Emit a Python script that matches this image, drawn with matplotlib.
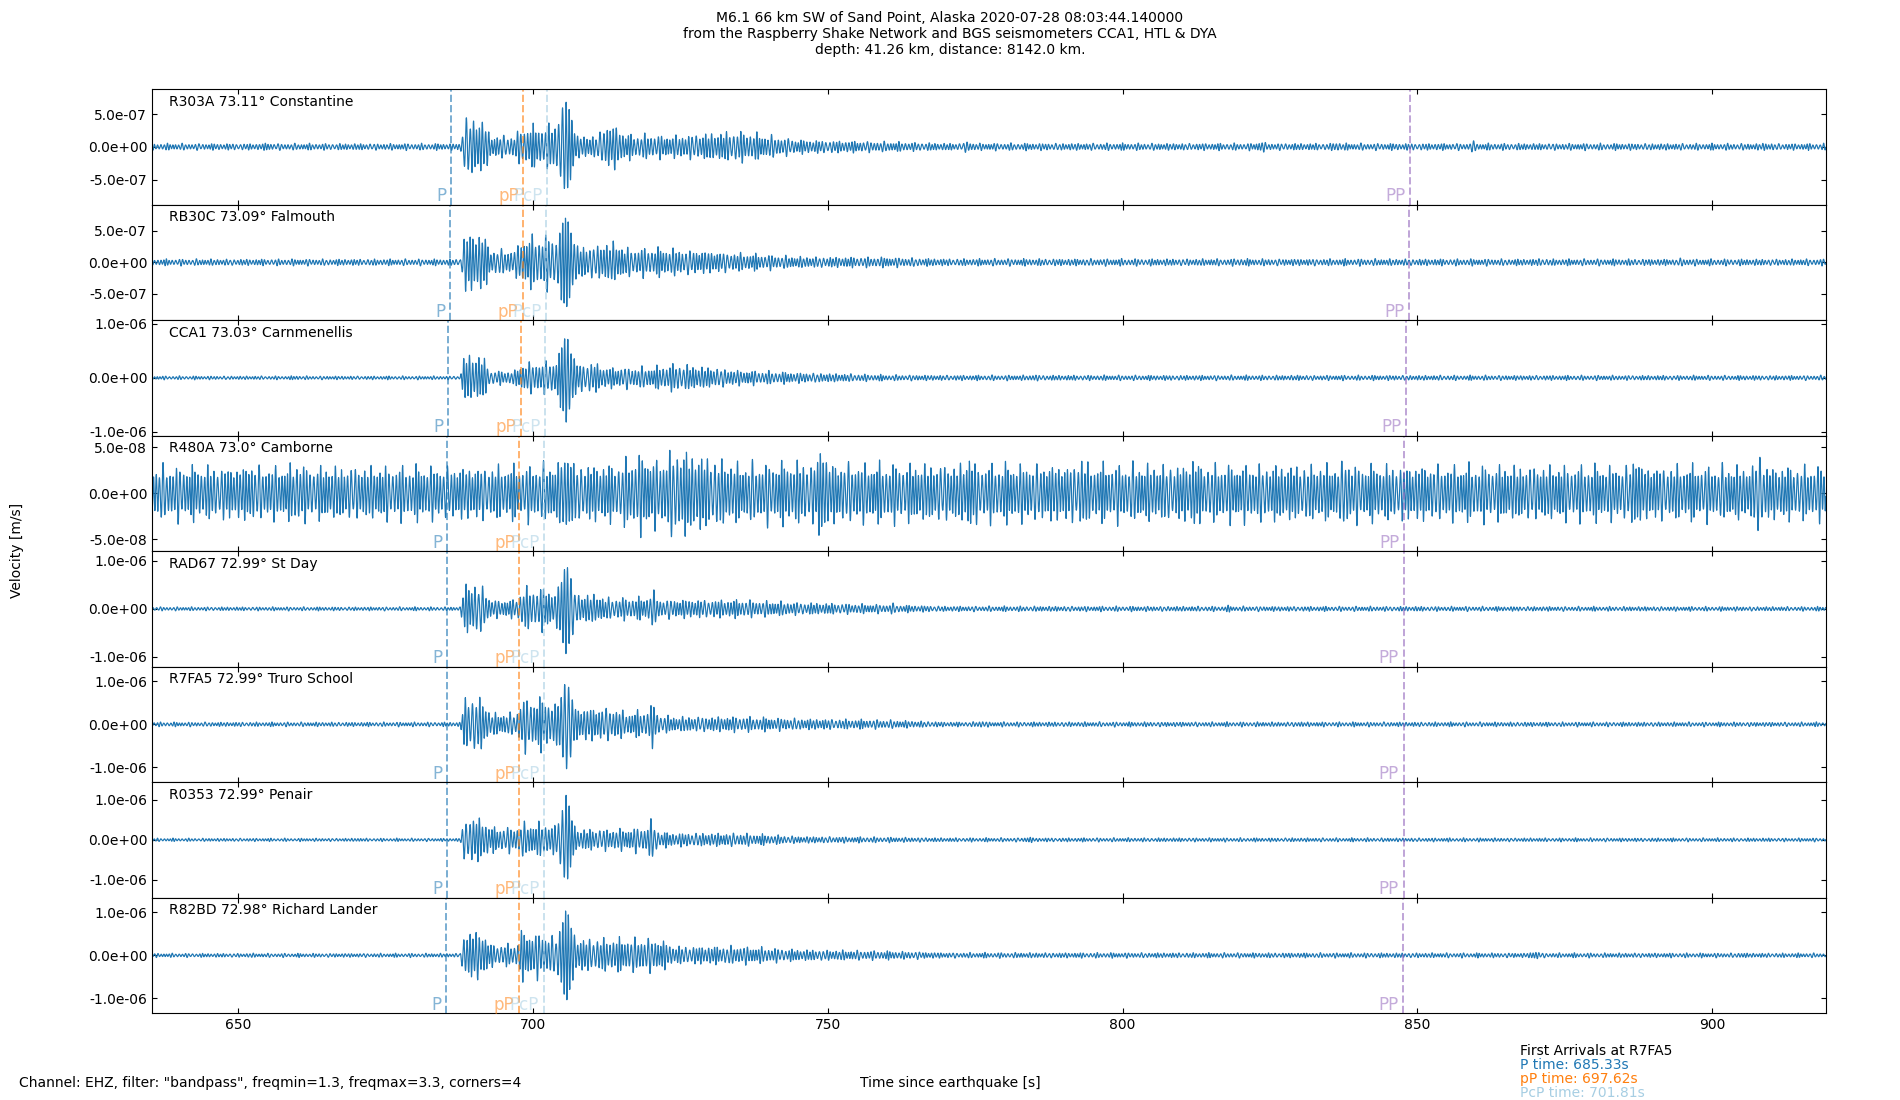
import matplotlib
matplotlib.use("Agg")
import matplotlib.pyplot as plt
import numpy as np
from matplotlib.ticker import FormatStrFormatter

# station metadata (top to bottom)
STATIONS = ["R303A", "RB30C", "CCA1", "R480A", "RAD67", "R7FA5", "R0353", "R82BD"]
DISTANCES = [73.11, 73.09, 73.03, 73.0, 72.99, 72.99, 72.99, 72.98]
PLACES = ["Constantine", "Falmouth", "Carnmenellis", "Camborne", "St Day",
          "Truro School", "Penair", "Richard Lander"]

# arrival times per station [s]
P_TIMES = [686.04, 685.92, 685.57, 685.39, 685.33, 685.33, 685.33, 685.27]
PP_DEPTH_TIMES = [698.33, 698.21, 697.86, 697.68, 697.62, 697.62, 697.62, 697.56]
PCP_TIMES = [702.30, 702.21, 701.97, 701.85, 701.81, 701.81, 701.81, 701.77]
PP_TIMES = [848.73, 848.55, 848.02, 847.76, 847.67, 847.67, 847.67, 847.58]

# y-axis half ranges and peak amplitudes [m/s]
Y_LIMITS = [8.8e-7, 9.15e-7, 1.07e-6, 6.26e-8, 1.2e-6, 1.34e-6, 1.44e-6, 1.34e-6]
PEAKS = [6.8e-7, 7.0e-7, 8.2e-7, 4.8e-8, 9.3e-7, 1.03e-6, 1.11e-6, 1.03e-6]

T_START, T_END = 635.33, 919.33

# amplitude envelopes (units of 1e-7 m/s) at these times
ENV_T = [635, 687.6, 688.4, 691.5, 692.8, 697.0, 698.0, 702.5, 703.8, 704.8, 705.6,
         706.5, 707.3, 711.0, 712.0, 714.5, 715.5, 719.0, 720.2, 721.5, 724, 735,
         745, 760, 770, 920]
ENV_R303A = [0.45, 0.45, 4.2, 4.0, 1.6, 1.6, 2.8, 3.0, 3.5, 5.5, 6.8, 5.0, 1.6, 1.6,
             3.2, 3.0, 1.8, 1.7, 1.8, 1.6, 1.6, 2.2, 1.0, 0.7, 0.5, 0.45]
ENV_RB30C = [0.45, 0.45, 4.3, 4.3, 1.8, 1.8, 3.5, 3.8, 3.5, 5.5, 7.0, 5.0, 2.4, 2.4,
             2.9, 2.8, 2.0, 2.0, 2.0, 2.0, 1.9, 1.3, 0.8, 0.7, 0.5, 0.45]
ENV_CCA1 = [0.3, 0.3, 4.3, 3.8, 1.2, 1.2, 2.5, 2.8, 3.0, 5.5, 8.2, 5.0, 2.6, 2.6,
            1.8, 1.8, 1.8, 1.8, 1.8, 2.0, 2.4, 1.3, 0.9, 0.5, 0.45, 0.4]
ENV_R480A = [0.24, 0.24, 0.24, 0.24, 0.24, 0.24, 0.24, 0.26, 0.26, 0.28, 0.3, 0.28,
             0.26, 0.26, 0.26, 0.26, 0.3, 0.36, 0.3, 0.3, 0.4, 0.26, 0.28, 0.26,
             0.26, 0.24]
ENV_RAD67 = [0.35, 0.35, 5.2, 4.5, 1.7, 1.7, 3.8, 4.0, 3.0, 6.0, 9.3, 6.0, 2.8, 2.8,
             2.1, 2.1, 2.1, 2.1, 3.5, 1.8, 1.8, 1.7, 1.2, 0.8, 0.5, 0.4]
ENV_R7FA5 = [0.45, 0.45, 6.0, 5.5, 2.3, 2.3, 5.4, 5.4, 4.0, 6.5, 10.3, 6.5, 3.5, 3.5,
             3.5, 3.3, 2.5, 2.8, 4.5, 2.0, 1.6, 1.6, 1.2, 0.9, 0.5, 0.45]
ENV_R0353 = [0.35, 0.35, 5.5, 5.0, 2.9, 2.9, 3.8, 3.8, 3.2, 7.0, 11.1, 6.0, 2.5, 2.5,
             2.5, 2.5, 2.5, 3.0, 4.5, 1.8, 1.6, 1.5, 0.8, 0.6, 0.45, 0.4]
ENV_R82BD = [0.4, 0.4, 5.4, 5.0, 2.3, 2.3, 5.0, 4.5, 3.5, 7.0, 10.5, 7.0, 3.5, 3.5,
             3.5, 3.5, 3.5, 3.5, 3.5, 3.3, 1.9, 1.9, 1.2, 0.9, 0.55, 0.45]
ENVELOPES = [ENV_R303A, ENV_RB30C, ENV_CCA1, ENV_R480A, ENV_RAD67, ENV_R7FA5,
             ENV_R0353, ENV_R82BD]

# isolated wave packets (time [s], amplitude 1e-7 m/s)
BURSTS_R303A = [(655, 0.6), (773.7, 0.8), (823.5, 0.8), (836.4, 0.7), (859.5, 0.75), (909, 0.6)]
BURSTS_RB30C = [(688.0, 0.45), (760, 0.8), (820, 0.6), (871, 0.6), (895, 0.6)]
BURSTS_CCA1 = [(660, 0.4), (785, 0.6), (830, 0.5), (880, 0.45)]
BURSTS_R480A = [(652, 0.3), (660, 0.33), (749, 0.48), (774, 0.38), (793, 0.36),
                (812, 0.35), (838, 0.36), (887, 0.38), (908, 0.4)]
BURSTS_RAD67 = [(760.9, 1.0), (818, 0.6), (850, 0.5)]
BURSTS_R7FA5 = [(650, 0.5), (757, 1.0), (776, 0.8), (830, 0.6), (868, 0.5)]
BURSTS_R0353 = [(670, 0.45), (784, 0.7), (829, 0.5), (890, 0.45)]
BURSTS_R82BD = [(652, 0.5), (765, 0.9), (870, 0.9), (905, 0.6)]
BURSTS = [BURSTS_R303A, BURSTS_RB30C, BURSTS_CCA1, BURSTS_R480A, BURSTS_RAD67,
          BURSTS_R7FA5, BURSTS_R0353, BURSTS_R82BD]

PHASE_COLORS = {"P": "#1f77b4", "pP": "#ff7f0e", "PcP": "#a6cee3", "PP": "#9467bd"}

t = np.arange(T_START, T_END, 0.01)


def build_trace(env_vals, bursts, peak, k):
    env = np.interp(t, ENV_T, env_vals)
    for tb, ab in bursts:
        env = np.maximum(env, ab * np.exp(-((t - tb) / 1.3) ** 2))
    phase = 2 * np.pi * (1.85 * t + 0.22 * np.sin(2 * np.pi * 0.13 * t + k)
                         + 0.12 * np.sin(2 * np.pi * 0.31 * t + 2.1 * k))
    mod = 1.25 * (0.5 + 0.5 * (0.5 + 0.5 * np.cos(2 * np.pi * 0.79 * t + 1.3 * k))
                  * (0.55 + 0.45 * np.cos(2 * np.pi * 0.37 * t + 0.6 * k)))
    w = np.exp(-((t - 705.6) / 1.2) ** 2)
    mod = mod * (1 - w) + w
    y = env * mod * np.cos(phase)
    return y / np.abs(y).max() * peak


fig, axes = plt.subplots(len(STATIONS), 1, sharex=True, figsize=(19, 11), dpi=100,
                         gridspec_kw={"hspace": 0})
fig.subplots_adjust(left=0.08, right=0.961, top=0.919, bottom=0.079)

for i, ax in enumerate(axes):
    y = build_trace(ENVELOPES[i], BURSTS[i], PEAKS[i], i)
    ax.plot(t, y, color="#1f77b4", lw=0.85)
    ax.set_ylim(-Y_LIMITS[i], Y_LIMITS[i])
    ax.set_xlim(T_START, T_END)
    ax.yaxis.set_major_formatter(FormatStrFormatter("%.1e"))
    ax.tick_params(direction="in", top=True, right=True, labelsize=10)
    ax.text(0.0102, 0.95, f"{STATIONS[i]} {DISTANCES[i]}° {PLACES[i]}",
            transform=ax.transAxes, ha="left", va="top", fontsize=10)
    for name, times in (("P", P_TIMES), ("pP", PP_DEPTH_TIMES), ("PcP", PCP_TIMES), ("PP", PP_TIMES)):
        c = PHASE_COLORS[name]
        ax.axvline(times[i], color=c, ls="--", lw=1.4, alpha=0.6)
        ax.annotate(name, xy=(times[i], 0), xycoords=("data", "axes fraction"),
                    xytext=(-3.2, 2.4), textcoords="offset points", ha="right",
                    va="baseline", color=c, alpha=0.55, fontsize=12)

fig.suptitle("M6.1 66 km SW of Sand Point, Alaska 2020-07-28 08:03:44.140000\n"
             "from the Raspberry Shake Network and BGS seismometers CCA1, HTL & DYA\n"
             "depth: 41.26 km, distance: 8142.0 km.", y=0.99, fontsize=10)
fig.text(0.009, 0.5, "Velocity [m/s]", rotation=90, ha="center", va="center", fontsize=10)
fig.text(0.5, 0.015, "Time since earthquake [s]", ha="center", va="center", fontsize=10)
fig.text(0.01, 0.015, 'Channel: EHZ, filter: "bandpass", freqmin=1.3, freqmax=3.3, corners=4',
         ha="left", va="center", fontsize=10)

ref = STATIONS.index("R7FA5")
fig.text(0.8, 0.0445, "First Arrivals at R7FA5", ha="left", va="center", fontsize=10)
fig.text(0.8, 0.0318, f"P time: {P_TIMES[ref]:.2f}s", color=PHASE_COLORS["P"],
         ha="left", va="center", fontsize=10)
fig.text(0.8, 0.0191, f"pP time: {PP_DEPTH_TIMES[ref]:.2f}s", color=PHASE_COLORS["pP"],
         ha="left", va="center", fontsize=10)
fig.text(0.8, 0.0064, f"PcP time: {PCP_TIMES[ref]:.2f}s", color=PHASE_COLORS["PcP"],
         ha="left", va="center", fontsize=10)

fig.savefig("out.png", dpi=100)
